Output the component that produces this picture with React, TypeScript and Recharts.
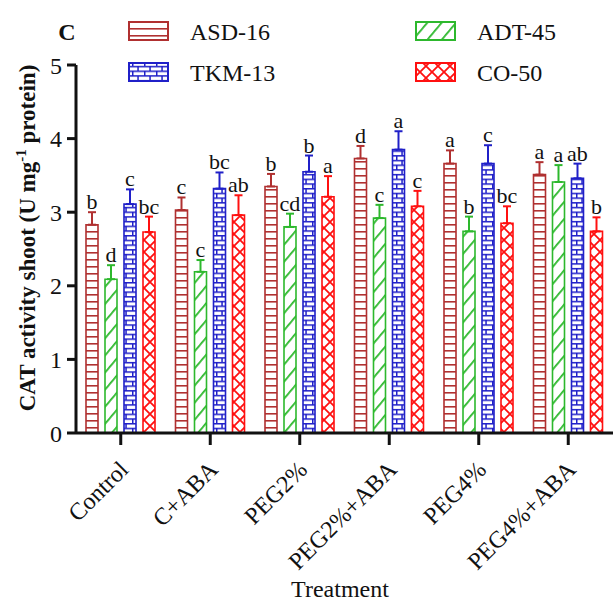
import React from 'react'
import { BarChart, Bar, XAxis, YAxis, ErrorBar, LabelList } from 'recharts'

const treatments = ['Control', 'C+ABA', 'PEG2%', 'PEG2%+ABA', 'PEG4%', 'PEG4%+ABA']

const asd16 = [2.83, 3.03, 3.35, 3.73, 3.66, 3.51]
const asd16Err = [0.17, 0.17, 0.17, 0.17, 0.18, 0.17]
const asd16Letters = ['b', 'c', 'b', 'd', 'a', 'a']

const adt45 = [2.09, 2.19, 2.8, 2.92, 2.74, 3.41]
const adt45Err = [0.19, 0.16, 0.18, 0.18, 0.2, 0.23]
const adt45Letters = ['d', 'c', 'cd', 'c', 'b', 'a']

const tkm13 = [3.11, 3.32, 3.55, 3.85, 3.66, 3.46]
const tkm13Err = [0.2, 0.22, 0.22, 0.25, 0.25, 0.2]
const tkm13Letters = ['c', 'bc', 'b', 'a', 'c', 'ab']

const co50 = [2.73, 2.96, 3.21, 3.08, 2.85, 2.74]
const co50Err = [0.21, 0.27, 0.28, 0.21, 0.23, 0.19]
const co50Letters = ['bc', 'ab', 'a', 'c', 'bc', 'b']

const yTicks = [0, 1, 2, 3, 4, 5]

const SERIF = '"Liberation Serif", "Times New Roman", serif'
const INK = '#111'

const C_ASD = '#b03030'
const C_ADT = '#2db82d'
const C_TKM = '#2020c8'
const C_CO = '#ff1010'

const rows = treatments.map((name, i) => ({
    name,
    asd: asd16[i],
    asdErr: [0, asd16Err[i]],
    adt: adt45[i],
    adtErr: [0, adt45Err[i]],
    tkm: tkm13[i],
    tkmErr: [0, tkm13Err[i]],
    co: co50[i],
    coErr: [0, co50Err[i]],
}))

// letter above the error cap; px per unit taken from the bar the library drew
const letterLabel = (letters: string[], values: number[], errs: number[]) => (props: any) => {
    const vb = props.viewBox || {}
    const x = Number(vb.x ?? props.x)
    const y = Number(vb.y ?? props.y)
    const w = Number(vb.width ?? props.width)
    const h = Number(vb.height ?? props.height)
    const i = treatments.indexOf(props.value)
    if (i < 0 || !isFinite(x)) return null
    const top = y - (errs[i] * Math.abs(h)) / values[i]
    return (
        <text x={x + w / 2} y={top - 3} textAnchor="middle" fontFamily={SERIF} fontSize={22} fill={INK}>
            {letters[i]}
        </text>
    )
}

const XTick = (props: any) => {
    const { x, y, payload } = props
    const ax = x + 9
    const ay = y + 26
    return (
        <text
            x={ax}
            y={ay}
            transform={`rotate(-45, ${ax}, ${ay})`}
            textAnchor="end"
            fontFamily={SERIF}
            fontSize={24}
            fill={INK}
        >
            {payload.value}
        </text>
    )
}

const Patterns = () => (
    <defs>
        <pattern id="pASD" patternUnits="userSpaceOnUse" width="8" height="7">
            <rect width="8" height="7" fill="#fff" />
            <rect y="0" width="8" height="1.6" fill={C_ASD} />
        </pattern>
        <pattern id="pTKM" patternUnits="userSpaceOnUse" width="12" height="9.4">
            <rect width="12" height="9.4" fill="#fff" />
            <rect y="0" width="12" height="1.5" fill={C_TKM} />
            <rect y="4.7" width="12" height="1.5" fill={C_TKM} />
            <rect x="5.3" y="0" width="1.5" height="4.7" fill={C_TKM} />
            <rect x="0" y="4.7" width="1.5" height="4.7" fill={C_TKM} />
        </pattern>
        <pattern id="pADT" patternUnits="userSpaceOnUse" width="11" height="11" patternTransform="rotate(40)">
            <rect width="11" height="11" fill="#fff" />
            <rect x="0" y="0" width="1.8" height="11" fill={C_ADT} />
        </pattern>
        <pattern id="pCO" patternUnits="userSpaceOnUse" width="12" height="12">
            <rect width="12" height="12" fill="#fff" />
            <path d="M0,0 L12,12 M12,0 L0,12" stroke={C_CO} strokeWidth="1.8" />
        </pattern>
    </defs>
)

const legendItems = [
    { name: 'ASD-16', fill: 'url(#pASD)', color: C_ASD, col: 0, row: 0 },
    { name: 'TKM-13', fill: 'url(#pTKM)', color: C_TKM, col: 0, row: 1 },
    { name: 'ADT-45', fill: 'url(#pADT)', color: C_ADT, col: 1, row: 0 },
    { name: 'CO-50', fill: 'url(#pCO)', color: C_CO, col: 1, row: 1 },
]

export default function App() {
    return (
        <div style={{ position: 'absolute', left: 0, top: 0, width: 614, height: 605, background: '#fff' }}>
            <svg width={614} height={605} style={{ position: 'absolute', left: 0, top: 0 }}>
                <Patterns />
                <text x={67} y={40} textAnchor="middle" fontFamily={SERIF} fontWeight="bold" fontSize={24} fill={INK}>
                    C
                </text>
                {legendItems.map((it) => {
                    const sx = it.col === 0 ? 129 : 416
                    const sy = it.row === 0 ? 22 : 63
                    return (
                        <g key={it.name}>
                            <rect x={sx} y={sy} width={39} height={18} fill={it.fill} stroke={it.color} strokeWidth={2} />
                            <text x={sx + 61} y={sy + 18} fontFamily={SERIF} fontSize={24} fill={INK}>
                                {it.name}
                            </text>
                        </g>
                    )
                })}
                <text
                    x={35}
                    y={238}
                    transform="rotate(-90, 35, 238)"
                    textAnchor="middle"
                    fontFamily={SERIF}
                    fontWeight="bold"
                    fontSize={23}
                    fill={INK}
                >
                    <tspan>CAT activity shoot (U mg</tspan>
                    <tspan dy={-9} fontSize={15}>-1</tspan>
                    <tspan dy={9}> protein)</tspan>
                </text>
                <text x={340} y={597} textAnchor="middle" fontFamily={SERIF} fontSize={24} fill={INK}>
                    Treatment
                </text>
            </svg>
            <div style={{ position: 'absolute', left: 0, top: 0 }}>
                <BarChart
                    width={614}
                    height={605}
                    data={rows}
                    margin={{ top: 65, right: 1, left: 0, bottom: 0 }}
                    barSize={12}
                    barGap={7}
                >
                    <XAxis
                        dataKey="name"
                        height={172}
                        interval={0}
                        axisLine={{ stroke: INK, strokeWidth: 3 }}
                        tickLine={{ stroke: INK, strokeWidth: 3 }}
                        tickSize={12}
                        tickMargin={0}
                        tick={<XTick />}
                    />
                    <YAxis
                        width={76}
                        domain={[0, 5]}
                        ticks={yTicks}
                        interval={0}
                        allowDataOverflow
                        axisLine={{ stroke: INK, strokeWidth: 3 }}
                        tickLine={{ stroke: INK, strokeWidth: 3 }}
                        tickSize={9}
                        tickMargin={5}
                        tick={{ fontFamily: SERIF, fontSize: 24, fill: INK }}
                    />
                    <Bar dataKey="asd" fill="url(#pASD)" stroke={C_ASD} strokeWidth={1.6} isAnimationActive={false}>
                        <ErrorBar dataKey="asdErr" width={4} strokeWidth={2} stroke={C_ASD} direction="y" />
                        <LabelList dataKey="name" content={letterLabel(asd16Letters, asd16, asd16Err)} />
                    </Bar>
                    <Bar dataKey="adt" fill="url(#pADT)" stroke={C_ADT} strokeWidth={1.6} isAnimationActive={false}>
                        <ErrorBar dataKey="adtErr" width={4} strokeWidth={2} stroke={C_ADT} direction="y" />
                        <LabelList dataKey="name" content={letterLabel(adt45Letters, adt45, adt45Err)} />
                    </Bar>
                    <Bar dataKey="tkm" fill="url(#pTKM)" stroke={C_TKM} strokeWidth={1.6} isAnimationActive={false}>
                        <ErrorBar dataKey="tkmErr" width={4} strokeWidth={2} stroke={C_TKM} direction="y" />
                        <LabelList dataKey="name" content={letterLabel(tkm13Letters, tkm13, tkm13Err)} />
                    </Bar>
                    <Bar dataKey="co" fill="url(#pCO)" stroke={C_CO} strokeWidth={1.6} isAnimationActive={false}>
                        <ErrorBar dataKey="coErr" width={4} strokeWidth={2} stroke={C_CO} direction="y" />
                        <LabelList dataKey="name" content={letterLabel(co50Letters, co50, co50Err)} />
                    </Bar>
                </BarChart>
            </div>
        </div>
    )
}
